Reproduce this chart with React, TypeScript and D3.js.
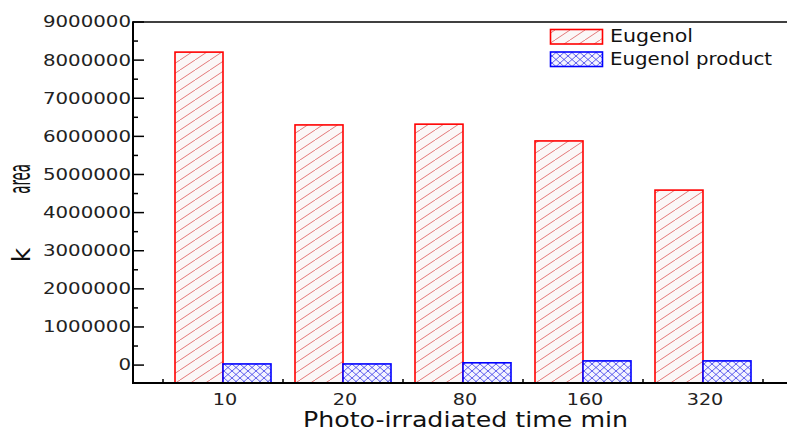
import React from "react";
import * as d3 from "d3";

const categories = ["10", "20", "80", "160", "320"];
const seriesNames = ["Eugenol", "Eugenol product"];
const eugenol = [8210000, 6300000, 6320000, 5880000, 4590000];
const eugenolProduct = [30000, 30000, 60000, 110000, 110000];
const yTicks = [0, 1000000, 2000000, 3000000, 4000000, 5000000, 6000000, 7000000, 8000000, 9000000];
const yMinorTicks = [500000, 1500000, 2500000, 3500000, 4500000, 5500000, 6500000, 7500000, 8500000];
const yDomain = [-470000, 9000000];
const xLabel = "Photo-irradiated time min";

const W = 787;
const H = 433;
const FONT = "DejaVu Sans, Verdana, sans-serif";

export default function App() {
  const left = 133;
  const bottom = 383;
  const top = 22;
  const y = d3.scaleLinear().domain(yDomain).range([bottom, top]);
  const x = d3.scaleBand<string>().domain(categories).range([163, 763]).padding(0);
  const sub = d3.scaleBand<string>().domain(seriesNames).range([12, x.bandwidth() - 12]).padding(0);
  const series = [eugenol, eugenolProduct];
  const fills = ["url(#hatchRed)", "url(#hatchBlue)"];
  const strokes = ["#ff0000", "#0000ff"];
  const boundaries = d3.range(categories.length + 1).map((i) => 163 + i * x.step());

  return (
    <svg width={W} height={H} style={{ position: "absolute", left: 0, top: 0, background: "#fff" }} fontFamily={FONT}>
      <defs>
        <pattern id="hatchRed" patternUnits="userSpaceOnUse" width={15} height={10}>
          <rect width={15} height={10} fill="#fbf7f7" />
          <path d="M-15,10 L0,0 M0,10 L15,0 M15,10 L30,0" stroke="#e06a6a" strokeWidth={0.9} />
        </pattern>
        <pattern id="hatchBlue" patternUnits="userSpaceOnUse" width={8} height={7}>
          <rect width={8} height={7} fill="#f4f4ff" />
          <path d="M-8,7 L0,0 M0,7 L8,0 M8,7 L16,0 M-8,0 L0,7 M0,0 L8,7 M8,0 L16,7" stroke="#3a3ae8" strokeWidth={0.8} />
        </pattern>
      </defs>

      {/* bars */}
      {categories.map((c, i) => (
        <g key={c}>
          {seriesNames.map((s, j) => {
            const x0 = (x(c) as number) + (sub(s) as number);
            const yt = y(series[j][i]);
            return (
              <rect
                key={s}
                x={x0}
                y={yt}
                width={sub.bandwidth()}
                height={bottom - yt}
                fill={fills[j]}
                stroke={strokes[j]}
                strokeWidth={1.6}
              />
            );
          })}
        </g>
      ))}

      {/* axes frame */}
      <line x1={left} x2={W} y1={top} y2={top} stroke="#000" strokeWidth={1.5} />
      <line x1={left} x2={W} y1={bottom} y2={bottom} stroke="#000" strokeWidth={2} />
      <line x1={left} x2={left} y1={top - 0.75} y2={bottom + 1} stroke="#000" strokeWidth={2} />

      {/* y ticks */}
      {yTicks.map((t) => (
        <g key={t}>
          <line x1={left} x2={left + 11} y1={y(t)} y2={y(t)} stroke="#000" strokeWidth={1.5} />
          <text
            transform={`translate(${left - 2},${y(t)}) scale(1.32,1)`}
            textAnchor="end"
            dy="0.36em"
            fontSize={15}
            fill="#222"
          >
            {String(t)}
          </text>
        </g>
      ))}
      {yMinorTicks.map((t) => (
        <line key={t} x1={left} x2={left + 5} y1={y(t)} y2={y(t)} stroke="#000" strokeWidth={1.5} />
      ))}

      {/* x ticks */}
      {boundaries.map((b) => (
        <line key={b} x1={b} x2={b} y1={bottom} y2={bottom - 4} stroke="#000" strokeWidth={1.5} />
      ))}
      {categories.map((c) => (
        <text
          key={c}
          transform={`translate(${(x(c) as number) + x.bandwidth() / 2 + 2},405) scale(1.2,1)`}
          textAnchor="middle"
          fontSize={16}
          fill="#222"
        >
          {c}
        </text>
      ))}

      {/* x label */}
      <text x={303} y={427} fontSize={22} textLength={325} lengthAdjust="spacingAndGlyphs" fill="#111">
        {xLabel}
      </text>

      {/* y label */}
      <text transform="translate(30,179) rotate(-90) scale(0.44,1)" textAnchor="middle" fontSize={30} fill="#111">
        area
      </text>
      <text transform="translate(30,255) rotate(-90)" textAnchor="middle" fontSize={25} fill="#111">
        k
      </text>

      {/* legend */}
      {seriesNames.map((s, j) => (
        <g key={s}>
          <rect x={550.5} y={29.5 + j * 22.5} width={52} height={14.5} fill={fills[j]} stroke={strokes[j]} strokeWidth={1.6} />
          <text x={610} y={42 + j * 22.5} fontSize={17} textLength={j === 0 ? 83 : 162} lengthAdjust="spacingAndGlyphs" fill="#111">
            {s}
          </text>
        </g>
      ))}
    </svg>
  );
}
